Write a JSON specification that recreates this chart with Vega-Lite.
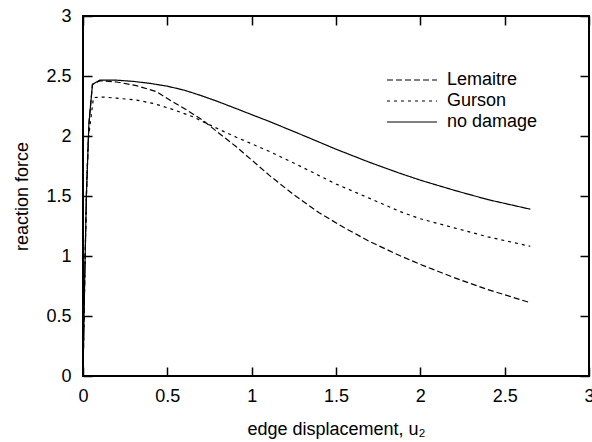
{
  "$schema": "https://vega.github.io/schema/vega-lite/v6.json",
  "width": 506,
  "height": 360,
  "autosize": {"type": "none"},
  "padding": {"left": 83, "top": 16, "right": 3, "bottom": 66},
  "background": "white",
  "config": {
    "font": "Liberation Sans",
    "view": {"stroke": "black", "strokeWidth": 2},
    "axis": {
      "grid": false,
      "domain": false,
      "tickSize": -9,
      "tickColor": "black",
      "tickWidth": 1.5,
      "labelFontSize": 18,
      "labelColor": "black",
      "labelFont": "Liberation Sans",
      "labelFlush": false,
      "labelOverlap": false,
      "titleFontSize": 18,
      "titleFontWeight": "normal",
      "titleColor": "black",
      "titleFont": "Liberation Sans"
    }
  },
  "data": {
    "values": [
      {"model": "no damage", "x": 0, "y": 0},
      {"model": "no damage", "x": 0.01, "y": 0.8},
      {"model": "no damage", "x": 0.02, "y": 1.5},
      {"model": "no damage", "x": 0.035, "y": 2.1},
      {"model": "no damage", "x": 0.056, "y": 2.43},
      {"model": "no damage", "x": 0.1, "y": 2.465},
      {"model": "no damage", "x": 0.2, "y": 2.465},
      {"model": "no damage", "x": 0.3, "y": 2.455},
      {"model": "no damage", "x": 0.4, "y": 2.438},
      {"model": "no damage", "x": 0.5, "y": 2.415},
      {"model": "no damage", "x": 0.6, "y": 2.382},
      {"model": "no damage", "x": 0.7, "y": 2.337},
      {"model": "no damage", "x": 0.8, "y": 2.287},
      {"model": "no damage", "x": 0.909, "y": 2.228},
      {"model": "no damage", "x": 1.0, "y": 2.178},
      {"model": "no damage", "x": 1.107, "y": 2.12},
      {"model": "no damage", "x": 1.3, "y": 2.008},
      {"model": "no damage", "x": 1.5, "y": 1.89},
      {"model": "no damage", "x": 1.7, "y": 1.78},
      {"model": "no damage", "x": 1.877, "y": 1.69},
      {"model": "no damage", "x": 2.0, "y": 1.632},
      {"model": "no damage", "x": 2.2, "y": 1.548},
      {"model": "no damage", "x": 2.4, "y": 1.47},
      {"model": "no damage", "x": 2.652, "y": 1.39},
      {"model": "Lemaitre", "x": 0, "y": 0},
      {"model": "Lemaitre", "x": 0.01, "y": 0.8},
      {"model": "Lemaitre", "x": 0.02, "y": 1.5},
      {"model": "Lemaitre", "x": 0.035, "y": 2.1},
      {"model": "Lemaitre", "x": 0.056, "y": 2.43},
      {"model": "Lemaitre", "x": 0.1, "y": 2.46},
      {"model": "Lemaitre", "x": 0.2, "y": 2.45},
      {"model": "Lemaitre", "x": 0.316, "y": 2.42},
      {"model": "Lemaitre", "x": 0.435, "y": 2.37},
      {"model": "Lemaitre", "x": 0.514, "y": 2.3},
      {"model": "Lemaitre", "x": 0.6, "y": 2.23},
      {"model": "Lemaitre", "x": 0.711, "y": 2.13},
      {"model": "Lemaitre", "x": 0.8, "y": 2.03},
      {"model": "Lemaitre", "x": 0.909, "y": 1.91},
      {"model": "Lemaitre", "x": 1.0, "y": 1.8},
      {"model": "Lemaitre", "x": 1.107, "y": 1.67},
      {"model": "Lemaitre", "x": 1.25, "y": 1.51},
      {"model": "Lemaitre", "x": 1.4, "y": 1.36},
      {"model": "Lemaitre", "x": 1.55, "y": 1.235},
      {"model": "Lemaitre", "x": 1.7, "y": 1.12},
      {"model": "Lemaitre", "x": 1.877, "y": 1.004},
      {"model": "Lemaitre", "x": 2.0, "y": 0.93},
      {"model": "Lemaitre", "x": 2.2, "y": 0.82},
      {"model": "Lemaitre", "x": 2.4, "y": 0.72},
      {"model": "Lemaitre", "x": 2.652, "y": 0.611},
      {"model": "Gurson", "x": 0, "y": 0},
      {"model": "Gurson", "x": 0.01, "y": 0.8},
      {"model": "Gurson", "x": 0.02, "y": 1.5},
      {"model": "Gurson", "x": 0.03, "y": 1.95},
      {"model": "Gurson", "x": 0.047, "y": 2.15},
      {"model": "Gurson", "x": 0.062, "y": 2.32},
      {"model": "Gurson", "x": 0.119, "y": 2.325},
      {"model": "Gurson", "x": 0.2, "y": 2.315},
      {"model": "Gurson", "x": 0.316, "y": 2.3},
      {"model": "Gurson", "x": 0.42, "y": 2.27},
      {"model": "Gurson", "x": 0.514, "y": 2.23},
      {"model": "Gurson", "x": 0.652, "y": 2.16},
      {"model": "Gurson", "x": 0.711, "y": 2.12},
      {"model": "Gurson", "x": 0.8, "y": 2.06},
      {"model": "Gurson", "x": 0.909, "y": 1.99},
      {"model": "Gurson", "x": 1.0, "y": 1.935},
      {"model": "Gurson", "x": 1.107, "y": 1.87},
      {"model": "Gurson", "x": 1.3, "y": 1.74},
      {"model": "Gurson", "x": 1.5, "y": 1.6},
      {"model": "Gurson", "x": 1.7, "y": 1.48},
      {"model": "Gurson", "x": 1.877, "y": 1.372},
      {"model": "Gurson", "x": 2.0, "y": 1.31},
      {"model": "Gurson", "x": 2.2, "y": 1.235},
      {"model": "Gurson", "x": 2.4, "y": 1.16},
      {"model": "Gurson", "x": 2.652, "y": 1.081}
    ]
  },
  "layer": [
    {
      "mark": {"type": "line", "color": "black", "strokeWidth": 1.2},
      "encoding": {
        "x": {
          "field": "x",
          "type": "quantitative",
          "scale": {"domain": [0, 3], "nice": false, "zero": false},
          "axis": {
            "orient": "bottom",
            "values": [0, 0.5, 1, 1.5, 2, 2.5, 3],
            "format": "~g",
            "labelPadding": 20,
            "title": "edge displacement, u₂",
            "titlePadding": 15
          }
        },
        "y": {
          "field": "y",
          "type": "quantitative",
          "scale": {"domain": [0, 3], "nice": false},
          "axis": {
            "orient": "left",
            "values": [0, 0.5, 1, 1.5, 2, 2.5, 3],
            "format": "~g",
            "labelPadding": 21,
            "title": "reaction force",
            "titlePadding": 14
          }
        },
        "strokeDash": {
          "field": "model",
          "type": "nominal",
          "scale": {
            "domain": ["Lemaitre", "Gurson", "no damage"],
            "range": [[6, 3], [3, 4], [1, 0]]
          },
          "legend": {
            "orient": "none",
            "legendX": 320,
            "legendY": 55,
            "title": null,
            "symbolType": "M-5,0H5",
            "symbolSize": 100,
            "symbolStrokeColor": "black",
            "symbolStrokeWidth": 1.2,
            "symbolFillColor": "transparent",
            "labelOffset": 26,
            "labelFontSize": 18,
            "labelFont": "Liberation Sans",
            "labelColor": "black",
            "rowPadding": 3,
            "padding": 0
          }
        }
      }
    },
    {
      "mark": {"type": "line", "opacity": 0},
      "encoding": {
        "x": {
          "field": "x",
          "type": "quantitative",
          "axis": {
            "orient": "top",
            "values": [0, 0.5, 1, 1.5, 2, 2.5, 3],
            "labels": false,
            "title": null
          }
        },
        "y": {
          "field": "y",
          "type": "quantitative",
          "axis": {
            "orient": "right",
            "values": [0, 0.5, 1, 1.5, 2, 2.5, 3],
            "labels": false,
            "title": null
          }
        },
        "detail": {"field": "model", "type": "nominal"}
      }
    }
  ],
  "resolve": {"axis": {"x": "independent", "y": "independent"}}
}
